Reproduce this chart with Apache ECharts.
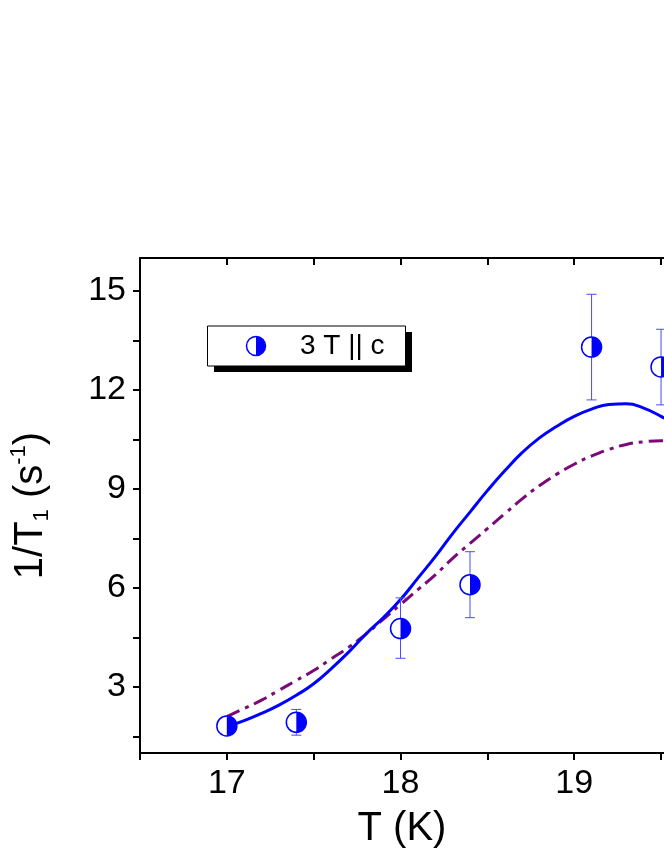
<!DOCTYPE html>
<html><head><meta charset="utf-8">
<script src="https://cdn.jsdelivr.net/npm/echarts@6/dist/echarts.min.js"></script>
<style>html,body{margin:0;padding:0;background:#fff}#c{width:664px;height:860px}</style>
</head><body><div id="c"></div>
<script>
const ptsT = [17.0, 17.4, 18.0, 18.4, 19.1, 19.5];
const ptsR = [1.82, 1.93, 4.77, 6.1, 13.3, 12.7];
const errLo = [1.7, 1.54, 3.87, 5.1, 11.7, 11.55];
const errHi = [1.95, 2.32, 5.7, 7.1, 14.9, 13.84];
const curveT = [17,17.1,17.2,17.3,17.4,17.5,17.6,17.7,17.8,17.9,18,18.1,18.2,18.3,18.4,18.5,18.6,18.7,18.8,18.9,19,19.1,19.2,19.3,19.4,19.5,19.6,19.7,19.8,19.9,20];
const solidFit = [1.8,1.98,2.2,2.45,2.75,3.1,3.55,4.05,4.6,5.1,5.65,6.3,6.95,7.65,8.3,8.95,9.55,10.1,10.55,10.9,11.2,11.42,11.56,11.58,11.45,11.2,10.9,10.5,10.1,9.7,9.3];
const dashFit = [2.1,2.35,2.6,2.9,3.2,3.5,3.85,4.2,4.6,5.05,5.5,5.95,6.4,6.9,7.35,7.8,8.25,8.7,9.1,9.45,9.75,10.0,10.2,10.35,10.43,10.46,10.45,10.4,10.3,10.2,10.05];
const xMajor = [17, 18, 19];
const xMinor = [16.5, 17, 17.5, 18, 18.5, 19, 19.5];
const yMajor = [3, 6, 9, 12, 15];
const yAll = [1.5, 3, 4.5, 6, 7.5, 9, 10.5, 12, 13.5, 15];
const legendLabel = '3 T || c';

const chart = echarts.init(document.getElementById('c'));
const font = '"Liberation Sans", Arial, sans-serif';
const axisLine = {lineStyle:{color:'#000', width:2}};
chart.setOption({
  animation:false,
  grid:{left:136, top:258, right:0, bottom:107},
  xAxis:[{
    type:'value', min:16.5, max:19.517, position:'bottom',
    axisLine:axisLine, splitLine:{show:false},
    axisTick:{customValues:xMinor, length:7, lineStyle:{width:2}},
    axisLabel:{customValues:xMajor, fontSize:34, color:'#000', fontFamily:font, margin:14},
    name:'T (K)', nameLocation:'middle', nameGap:56,
    nameTextStyle:{fontSize:40, color:'#000', fontFamily:font}
  },{
    type:'value', min:16.5, max:19.517, position:'top',
    axisLine:axisLine, splitLine:{show:false},
    axisTick:{customValues:xMinor, inside:true, length:7, lineStyle:{width:2}},
    axisLabel:{show:false}
  }],
  yAxis:[{
    type:'value', min:1, max:16,
    axisLine:axisLine, splitLine:{show:false},
    axisTick:{customValues:yAll, length:7, lineStyle:{width:2}},
    axisLabel:{customValues:yMajor, fontSize:34, color:'#000', fontFamily:font, margin:14},
    name:'1/T{sub|1} (s{sup|-1})', nameLocation:'middle', nameGap:86, nameRotate:90,
    nameTextStyle:{fontSize:40, color:'#000', fontFamily:font,
      rich:{sub:{fontSize:22, padding:[22,0,0,0], fontFamily:font, color:'#000'},
            sup:{fontSize:22, padding:[0,0,24,0], fontFamily:font, color:'#000'}}}
  }],
  series:[
    {type:'line', data:curveT.map((t,i)=>[t,dashFit[i]]), smooth:true, symbol:'none',
     lineStyle:{color:'#7a0a78', width:3, type:[14,6,4,6]}, z:3},
    {type:'line', data:curveT.map((t,i)=>[t,solidFit[i]]), smooth:true, symbol:'none',
     lineStyle:{color:'#0000ff', width:3}, z:4},
    {type:'custom', z:5, data:ptsT.map((t,i)=>[t,errLo[i],errHi[i]]),
     renderItem:(p,api)=>{
       const a=api.coord([api.value(0),api.value(1)]), b=api.coord([api.value(0),api.value(2)]);
       const st={stroke:'#4a4aff', lineWidth:1};
       return {type:'group', children:[
         {type:'line', shape:{x1:a[0],y1:a[1],x2:b[0],y2:b[1]}, style:st},
         {type:'line', shape:{x1:a[0]-5,y1:a[1],x2:a[0]+5,y2:a[1]}, style:st},
         {type:'line', shape:{x1:b[0]-5,y1:b[1],x2:b[0]+5,y2:b[1]}, style:st}]};
     }},
    {type:'custom', z:6, data:ptsT.map((t,i)=>[t,ptsR[i]]),
     renderItem:(p,api)=>{
       const c=api.coord([api.value(0),api.value(1)]);
       return {type:'group', children:[
         {type:'circle', shape:{cx:c[0],cy:c[1],r:10}, style:{fill:'#fff', stroke:'#0000ff', lineWidth:1.5}},
         {type:'sector', shape:{cx:c[0],cy:c[1],r:10,r0:0,startAngle:-Math.PI/2,endAngle:Math.PI/2}, style:{fill:'#0000ff'}}]};
     }}
  ],
  graphic:[
    {type:'rect', shape:{x:214, y:332, width:198, height:40}, style:{fill:'#000'}, z:10},
    {type:'rect', shape:{x:207.5, y:326, width:198, height:40}, style:{fill:'#fff', stroke:'#000', lineWidth:1}, z:11},
    {type:'circle', shape:{cx:256, cy:346, r:9.5}, style:{fill:'#fff', stroke:'#0000ff', lineWidth:1.5}, z:12},
    {type:'sector', shape:{cx:256, cy:346, r:9.5, r0:0, startAngle:-Math.PI/2, endAngle:Math.PI/2}, style:{fill:'#0000ff'}, z:12},
    {type:'text', x:300, y:346, style:{text:legendLabel, fill:'#000', font:'28px "Liberation Sans", Arial, sans-serif', verticalAlign:'middle'}, z:12}
  ]
});
</script></body></html>
